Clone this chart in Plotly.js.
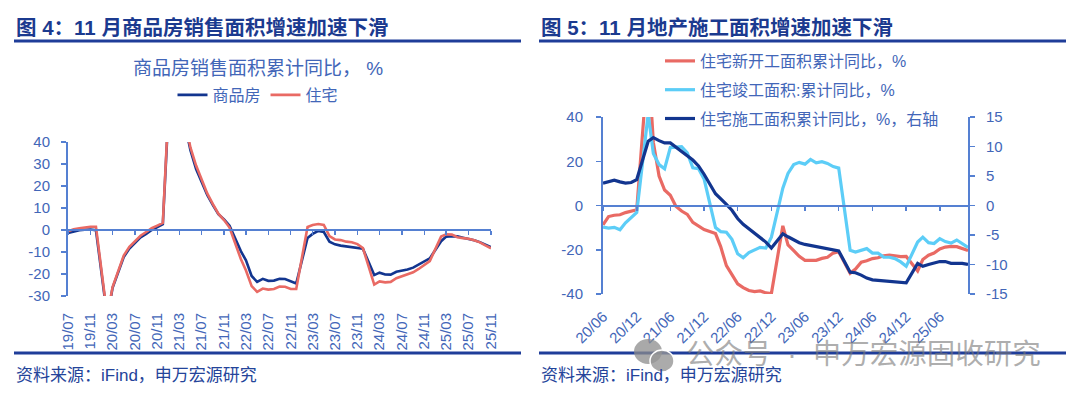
<!DOCTYPE html>
<html>
<head>
<meta charset="utf-8">
<script src="https://cdn.plot.ly/plotly-3.0.1.min.js"></script>
<style>
html,body{margin:0;padding:0;background:#ffffff;}
#chart{width:1080px;height:397px;}
</style>
</head>
<body>
<div id="chart"></div>
<script>
// ---------------- Figure 4 data: 商品房销售面积累计同比 (%) ----------------
const salesMonths = [
  "2019-07","2019-08","2019-09","2019-10","2019-11","2019-12",
  "2020-02","2020-03","2020-04","2020-05","2020-06","2020-07","2020-08","2020-09","2020-10","2020-11","2020-12",
  "2021-02","2021-03","2021-04","2021-05","2021-06","2021-07","2021-08","2021-09","2021-10","2021-11","2021-12",
  "2022-02","2022-03","2022-04","2022-05","2022-06","2022-07","2022-08","2022-09","2022-10","2022-11","2022-12",
  "2023-02","2023-03","2023-04","2023-05","2023-06","2023-07","2023-08","2023-09","2023-10","2023-11","2023-12",
  "2024-02","2024-03","2024-04","2024-05","2024-06","2024-07","2024-08","2024-09","2024-10","2024-11","2024-12",
  "2025-02","2025-03","2025-04","2025-05","2025-06","2025-07","2025-08","2025-09","2025-10","2025-11"
];
const salesCommodity = [
  -1.3,-0.6,-0.1,0.1,0.2,-0.1,
  -39.9,-26.3,-19.3,-12.3,-8.4,-5.8,-3.3,-1.8,0.0,1.3,2.6,
  104.9,63.8,48.1,36.3,27.7,21.5,15.9,11.3,7.2,4.8,1.9,
  -9.6,-13.8,-20.9,-23.6,-22.2,-23.1,-23.0,-22.2,-22.3,-23.3,-24.3,
  -3.6,-1.8,-0.4,-0.9,-5.3,-6.5,-7.1,-7.5,-7.8,-8.0,-8.5,
  -20.5,-19.4,-20.2,-20.3,-19.0,-18.6,-18.0,-17.1,-15.8,-14.3,-12.9,
  -5.1,-3.0,-2.8,-2.9,-3.5,-4.0,-4.7,-5.5,-6.8,-7.8
];
const salesResidential = [
  -0.6,0.3,0.8,1.3,1.5,1.5,
  -39.2,-25.9,-18.3,-11.6,-7.6,-5.1,-2.6,-0.9,0.8,2.0,3.2,
  108.0,66.1,49.4,37.5,29.3,22.7,16.6,11.8,7.4,4.5,1.1,
  -13.2,-18.4,-25.5,-28.1,-26.6,-27.1,-26.8,-25.7,-25.8,-26.8,-26.8,
  1.4,2.3,2.7,2.3,-2.8,-4.3,-4.6,-5.3,-5.6,-6.4,-8.2,
  -24.8,-23.4,-23.8,-23.6,-21.9,-21.1,-20.1,-19.2,-17.7,-16.0,-14.1,
  -3.0,-2.0,-2.1,-3.3,-3.7,-4.0,-4.7,-5.6,-7.0,-8.3
];
const salesYTickVals = [-30,-20,-10,0,10,20,30,40];
const salesYTickText = ["-30","-20","-10","0","10","20","30","40"];

// ---------------- Figure 5 data: 住宅新开工/竣工/施工面积累计同比 (%) ----------------
const constrMonths = [
  "2020-06","2020-07","2020-08","2020-09","2020-10","2020-11","2020-12",
  "2021-02","2021-03","2021-04","2021-05","2021-06","2021-07","2021-08","2021-09","2021-10","2021-11","2021-12",
  "2022-02","2022-03","2022-04","2022-05","2022-06","2022-07","2022-08","2022-09","2022-10","2022-11","2022-12",
  "2023-02","2023-03","2023-04","2023-05","2023-06","2023-07","2023-08","2023-09","2023-10","2023-11","2023-12",
  "2024-02","2024-03","2024-04","2024-05","2024-06","2024-07","2024-08","2024-09","2024-10","2024-11","2024-12",
  "2025-02","2025-03","2025-04","2025-05","2025-06","2025-07","2025-08","2025-09","2025-10","2025-11"
];
const newStarts = [
  -8.7,-5.0,-4.4,-4.2,-3.2,-2.6,-1.9,
  66.0,28.5,13.3,7.0,4.6,-0.3,-2.5,-4.0,-7.6,-9.1,-10.9,
  -12.7,-18.6,-27.2,-31.4,-35.4,-37.1,-38.4,-38.9,-38.6,-39.5,-39.8,
  -9.2,-17.8,-20.4,-23.0,-24.8,-24.9,-24.8,-23.9,-23.4,-21.5,-20.9,
  -30.6,-28.7,-25.6,-25.0,-24.0,-23.6,-22.7,-22.4,-22.7,-23.1,-23.0,
  -29.6,-24.4,-22.5,-21.5,-19.6,-18.8,-18.5,-18.6,-19.4,-20.3
];
const completions = [
  -9.8,-10.2,-9.9,-11.0,-7.8,-5.2,-3.1,
  41.4,23.5,18.5,16.6,26.2,26.4,26.6,23.8,17.0,16.6,12.0,
  -10.0,-11.8,-12.1,-15.3,-21.8,-23.6,-21.3,-20.1,-18.9,-19.2,-14.3,
  7.8,14.5,18.5,19.5,18.7,20.8,19.3,19.8,19.0,17.6,16.9,
  -20.2,-21.0,-20.4,-19.5,-21.5,-21.5,-23.3,-23.4,-24.0,-25.5,-27.5,
  -16.5,-14.3,-16.8,-17.2,-15.0,-16.3,-17.0,-15.6,-17.2,-19.0
];
const underConstruction = [
  3.8,4.1,4.3,4.0,3.8,3.9,4.4,
  10.9,11.5,11.0,10.6,10.6,9.9,9.2,8.5,7.7,6.7,5.3,
  2.0,1.2,0.2,-0.8,-2.2,-3.2,-4.0,-4.8,-5.4,-6.2,-7.2,
  -4.8,-5.3,-5.8,-6.3,-6.6,-6.8,-7.0,-7.2,-7.4,-7.6,-7.7,
  -11.3,-11.4,-11.8,-12.3,-12.6,-12.7,-12.8,-12.9,-13.0,-13.1,-13.1,
  -9.8,-10.3,-10.0,-9.7,-9.5,-9.5,-9.8,-9.8,-9.8,-10.0
];
const constrLeftTickVals = [-40,-20,0,20,40];
const constrLeftTickText = ["-40","-20","0","20","40"];
const constrRightTickVals = [-15,-10,-5,0,5,10,15];
const constrRightTickText = ["-15","-10","-5","0","5","10","15"];

// ---------------- styling ----------------
const W = 1080, H = 397;
const px = v => v / W;
const py = v => 1 - v / H;
const NAVY = "#1b3a8f";
const RULE = "#1f3d99";
const TXT = "#4266b8";
const AXIS = "#5580d2";
const C_DARK = "#12358f";
const C_RED = "#e96a64";
const C_LIGHT = "#5ccdf7";
const FONT = '"Liberation Sans", "Noto Sans CJK SC", Arial, sans-serif';

const salesRange = ["2019-07-01", "2025-11-01"];
const constrRange = ["2020-06-01", "2025-11-01"];
const salesYRange = [-30, 40];
const constrYRange = [-40, 40];
const constrY2Range = [-15, 15];

const dom1x = [px(68), px(491)];
const dom1y = [py(296), py(142)];
const dom2x = [px(603), px(968)];
const dom2y = [py(294), py(117)];
const zeroPos1 = dom1y[0] + (0 - salesYRange[0]) / (salesYRange[1] - salesYRange[0]) * (dom1y[1] - dom1y[0]);
const zeroPos2 = dom2y[0] + (0 - constrYRange[0]) / (constrYRange[1] - constrYRange[0]) * (dom2y[1] - dom2y[0]);

const traces = [
  {type:"scatter", mode:"lines", name:"商品房", x:salesMonths, y:salesCommodity, xaxis:"x", yaxis:"y",
   line:{color:C_DARK, width:2.6}, legend:"legend", hoverinfo:"skip"},
  {type:"scatter", mode:"lines", name:"住宅", x:salesMonths, y:salesResidential, xaxis:"x", yaxis:"y",
   line:{color:C_RED, width:2.6}, legend:"legend", hoverinfo:"skip"},
  {type:"scatter", mode:"lines", x:[], y:[], xaxis:"x3", yaxis:"y", showlegend:false, hoverinfo:"skip"},

  {type:"scatter", mode:"lines", name:"住宅新开工面积累计同比，%", x:constrMonths, y:newStarts, xaxis:"x2", yaxis:"y2",
   line:{color:C_RED, width:3.2}, legend:"legend2", legendgroup:"a", hoverinfo:"skip"},
  {type:"scatter", mode:"lines", name:"住宅竣工面积:累计同比，%", x:constrMonths, y:completions, xaxis:"x2", yaxis:"y2",
   line:{color:C_LIGHT, width:3.2}, legend:"legend2", legendgroup:"b", hoverinfo:"skip"},
  {type:"scatter", mode:"lines", name:"住宅施工面积累计同比，%，右轴", x:constrMonths, y:underConstruction, xaxis:"x2", yaxis:"y3",
   line:{color:C_DARK, width:3.2}, legend:"legend2", legendgroup:"c", hoverinfo:"skip"},
  {type:"scatter", mode:"lines", x:[], y:[], xaxis:"x4", yaxis:"y2", showlegend:false, hoverinfo:"skip"}
];

const tickFont = {family:FONT, size:15, color:TXT};
const yBase = {showgrid:false, zeroline:false, showline:true, linecolor:AXIS, linewidth:2,
  ticks:"outside", ticklen:5, tickwidth:1.5, tickcolor:AXIS, tickfont:tickFont, fixedrange:true};
const xLabelBase = {type:"date", showgrid:false, zeroline:false, showline:false, ticks:"",
  tickformat:"%y/%m", tickfont:tickFont, fixedrange:true};
const xZeroBase = {type:"date", showgrid:false, zeroline:false, showline:true, linecolor:AXIS, linewidth:2,
  ticks:"outside", ticklen:4, tickwidth:1.5, tickcolor:AXIS, showticklabels:false, anchor:"free", fixedrange:true};

const layout = {
  width:W, height:H, autosize:false,
  margin:{l:0, r:0, t:0, b:0, pad:0},
  paper_bgcolor:"#ffffff", plot_bgcolor:"rgba(0,0,0,0)",
  font:{family:FONT, color:TXT},
  showlegend:true,
  xaxis: Object.assign({}, xLabelBase, {domain:dom1x, anchor:"y", range:salesRange,
     tick0:"2019-07-01", dtick:"M4", tickangle:-90, ticklabelstandoff:13}),
  xaxis3: Object.assign({}, xZeroBase, {domain:dom1x, overlaying:"x", position:zeroPos1, range:salesRange,
     tick0:"2019-07-01", dtick:"M4"}),
  yaxis: Object.assign({}, yBase, {domain:dom1y, anchor:"x", range:salesYRange,
     tickmode:"array", tickvals:salesYTickVals, ticktext:salesYTickText, ticklabelstandoff:8}),

  xaxis2: Object.assign({}, xLabelBase, {domain:dom2x, anchor:"y2", range:constrRange,
     tick0:"2020-06-01", dtick:"M6", tickangle:-45, ticklabelstandoff:10}),
  xaxis4: Object.assign({}, xZeroBase, {domain:dom2x, overlaying:"x2", position:zeroPos2, range:constrRange,
     tick0:"2020-06-01", dtick:"M6"}),
  yaxis2: Object.assign({}, yBase, {domain:dom2y, anchor:"x2", range:constrYRange,
     tickmode:"array", tickvals:constrLeftTickVals, ticktext:constrLeftTickText, ticklabelstandoff:10}),
  yaxis3: Object.assign({}, yBase, {domain:dom2y, anchor:"x2", overlaying:"y2", side:"right", range:constrY2Range,
     tickmode:"array", tickvals:constrRightTickVals, ticktext:constrRightTickText, ticklabelstandoff:8}),

  legend:{orientation:"h", x:px(258), xanchor:"center", y:py(95), yanchor:"middle",
    font:{family:FONT, size:16, color:TXT}, bgcolor:"rgba(0,0,0,0)", borderwidth:0},
  legend2:{orientation:"v", x:px(660), xanchor:"left", y:py(44), yanchor:"top",
    traceorder:"grouped", tracegroupgap:5,
    font:{family:FONT, size:16, color:TXT}, bgcolor:"rgba(0,0,0,0)", borderwidth:0},

  shapes:[
    {type:"line", xref:"paper", yref:"paper", x0:px(14), x1:px(521), y0:py(41), y1:py(41), line:{color:RULE, width:3}},
    {type:"line", xref:"paper", yref:"paper", x0:px(539), x1:px(1066), y0:py(41), y1:py(41), line:{color:RULE, width:3}},
    {type:"line", xref:"paper", yref:"paper", x0:px(14), x1:px(521), y0:py(353), y1:py(353), line:{color:RULE, width:3}},
    {type:"line", xref:"paper", yref:"paper", x0:px(539), x1:px(1066), y0:py(353), y1:py(353), line:{color:RULE, width:3}},
    // watermark icon (two bubbles)
    {type:"circle", xref:"paper", yref:"paper", x0:px(634), x1:px(662), y0:py(364), y1:py(339),
      fillcolor:"rgba(140,140,140,0.75)", line:{width:0}},
    {type:"circle", xref:"paper", yref:"paper", x0:px(650), x1:px(674), y0:py(372), y1:py(350),
      fillcolor:"rgba(150,150,150,0.8)", line:{color:"#ffffff", width:1.5}}
  ],

  annotations:[
    {xref:"paper", yref:"paper", x:px(14), y:py(27), xanchor:"left", yanchor:"middle", showarrow:false,
     text:"图 4：11 月商品房销售面积增速加速下滑", font:{family:FONT, size:20.5, color:NAVY, weight:700}},
    {xref:"paper", yref:"paper", x:px(539), y:py(27), xanchor:"left", yanchor:"middle", showarrow:false,
     text:"图 5：11 月地产施工面积增速加速下滑", font:{family:FONT, size:20.5, color:NAVY, weight:700}},
    {xref:"paper", yref:"paper", x:px(258), y:py(68), xanchor:"center", yanchor:"middle", showarrow:false,
     text:"商品房销售面积累计同比， %", font:{family:FONT, size:19, color:TXT}},
    {xref:"paper", yref:"paper", x:px(14), y:py(375), xanchor:"left", yanchor:"middle", showarrow:false,
     text:"资料来源：iFind，申万宏源研究", font:{family:FONT, size:17, color:"#24449a"}},
    {xref:"paper", yref:"paper", x:px(539), y:py(375), xanchor:"left", yanchor:"middle", showarrow:false,
     text:"资料来源：iFind，申万宏源研究", font:{family:FONT, size:17, color:"#24449a"}},
    {xref:"paper", yref:"paper", x:px(684), y:py(354), xanchor:"left", yanchor:"middle", showarrow:false,
     text:"公众号  ·  申万宏源固收研究", font:{family:FONT, size:28.5, color:"rgba(120,120,120,0.6)"}}
  ]
};

Plotly.newPlot("chart", traces, layout, {staticPlot:true, displayModeBar:false});
</script>
</body>
</html>
